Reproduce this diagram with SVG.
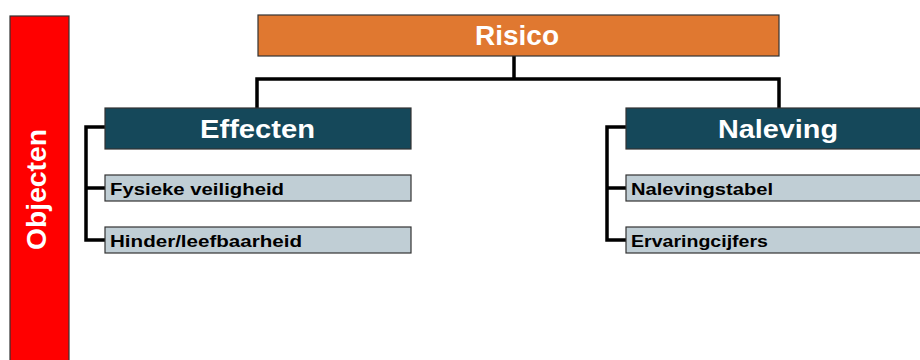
<svg xmlns="http://www.w3.org/2000/svg" width="920" height="360" viewBox="0 0 920 360">
<style>
.box{stroke:#333;stroke-width:1.2}
.conn{fill:none;stroke:#000;stroke-width:3.5;stroke-linejoin:miter}
.big{font-family:"Liberation Sans",Arial,sans-serif;font-weight:bold;fill:#fff}
.sub{font-family:"Liberation Sans",Arial,sans-serif;font-weight:bold;font-size:17px;fill:#000}
</style>
<rect width="920" height="360" fill="#fff"/>
<g id="connectors">
<path class="conn" d="M514 56 V79 M257 108 V79 H779 V108"/>
<path class="conn" d="M105 127 H86 V240 H105 M86 188 H105"/>
<path class="conn" d="M626 127 H607 V240 H626 M607 188 H626"/>
</g>
<g id="objecten">
<rect class="box" x="10" y="16" width="59" height="350" fill="#ff0000"/>
<text class="big" font-size="27" transform="translate(46 250) rotate(-90)" textLength="121" lengthAdjust="spacingAndGlyphs">Objecten</text>
</g>
<g id="risico">
<rect class="box" x="258" y="15" width="521" height="41" fill="#e07830"/>
<text class="big" font-size="27" x="475" y="45" textLength="84" lengthAdjust="spacingAndGlyphs">Risico</text>
</g>
<g id="effecten">
<rect class="box" x="105" y="108" width="306" height="41" fill="#15485a"/>
<text class="big" font-size="26" x="200" y="138" textLength="115" lengthAdjust="spacingAndGlyphs">Effecten</text>
</g>
<g id="naleving">
<rect class="box" x="626" y="108" width="310" height="41" fill="#15485a"/>
<text class="big" font-size="26" x="718" y="138" textLength="120" lengthAdjust="spacingAndGlyphs">Naleving</text>
</g>
<g id="fysieke">
<rect class="box" x="105" y="175" width="306" height="26" fill="#c0ced5"/>
<text class="sub" x="110" y="195" textLength="174" lengthAdjust="spacingAndGlyphs">Fysieke veiligheid</text>
</g>
<g id="hinder">
<rect class="box" x="105" y="227" width="306" height="26" fill="#c0ced5"/>
<text class="sub" x="110" y="247" textLength="192" lengthAdjust="spacingAndGlyphs">Hinder/leefbaarheid</text>
</g>
<g id="nalevingstabel">
<rect class="box" x="626" y="175" width="310" height="26" fill="#c0ced5"/>
<text class="sub" x="631" y="195" textLength="142" lengthAdjust="spacingAndGlyphs">Nalevingstabel</text>
</g>
<g id="ervaringcijfers">
<rect class="box" x="626" y="227" width="310" height="26" fill="#c0ced5"/>
<text class="sub" x="631" y="247" textLength="137" lengthAdjust="spacingAndGlyphs">Ervaringcijfers</text>
</g>
</svg>
